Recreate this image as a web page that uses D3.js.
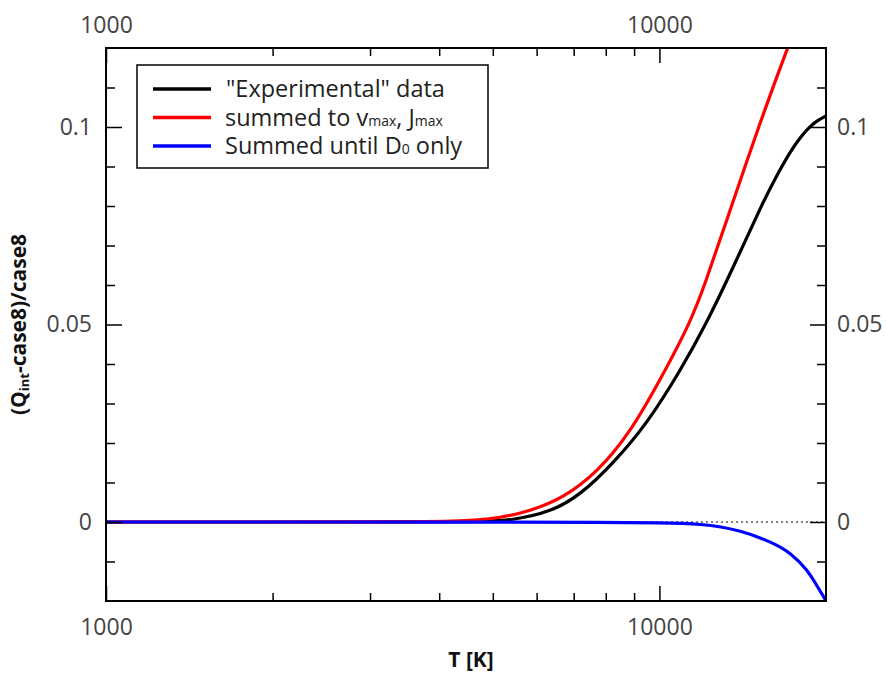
<!DOCTYPE html>
<html lang="en">
<head>
  <meta charset="UTF-8">
  <title>(Qint-case8)/case8 vs T</title>
  <script src="https://d3js.org/d3.v7.min.js"></script>
  <style>
    body {
      margin: 0;
      background: #fff;
      font-family: "Open Sans", "DejaVu Sans", sans-serif;
    }
    .tick text {
      font-family: "Open Sans", sans-serif;
      font-size: 23px;
      fill: #444;
    }
    .axis-title {
      font-family: "Open Sans", sans-serif;
      font-weight: bold;
      font-size: 21px;
      fill: #111;
    }
    .legend text {
      font-family: "Open Sans", sans-serif;
      font-size: 23.5px;
      fill: #222;
    }
  </style>
</head>
<body>
  <svg width="886" height="675"></svg>

  <script>
    // values
    const tBlack = [1000, 3000, 4800, 5445, 6353, 7194, 8257, 9513, 10914, 12112, 13724, 15421, 16346, 17254, 17989, 18755, 19389, 20000];
    const vBlack = [0, 0, 0, 0.0005, 0.0025, 0.0068, 0.0149, 0.025, 0.0384, 0.0497, 0.0657, 0.0813, 0.0881, 0.0939, 0.0975, 0.1003, 0.1018, 0.1028];

    const tRed = [1000, 3000, 4365, 5159, 5844, 6704, 7726, 8864, 10042, 11379, 12112, 13054, 15224, 17040, 18365];
    const vRed = [0, 0, 0.0001, 0.001, 0.0028, 0.0061, 0.0126, 0.0227, 0.0361, 0.0505, 0.0606, 0.074, 0.1015, 0.12, 0.1318];

    const tBlue = [1000, 5000, 8000, 10000, 11864, 14012, 16075, 17254, 18515, 19306, 20000];
    const vBlue = [0, 0, -0.0001, -0.0002, -0.0004, -0.002, -0.0053, -0.0078, -0.0121, -0.0164, -0.0199];

    const xMajor = [1000, 10000];
    const xMinor = [2000, 3000, 4000, 5000, 6000, 7000, 8000, 9000];
    const yMajor = [0, 0.05, 0.1];
    const yMinor = [-0.01, 0.01, 0.02, 0.03, 0.04, 0.06, 0.07, 0.08, 0.09, 0.11];

    const seriesNames = ["\"Experimental\" data", "summed to v", "Summed until D"];
    const seriesColors = ["#000", "#ff0000", "#0000ff"];

    const margin = { top: 48, right: 60, bottom: 74, left: 106 },
          width = 886 - margin.left - margin.right,
          height = 675 - margin.top - margin.bottom;

    const svg = d3.select("svg")
      .append("g")
      .attr("transform", `translate(${margin.left},${margin.top})`);

    const x = d3.scaleLog().domain([1000, 20000]).range([0, width]);
    const y = d3.scaleLinear().domain([-0.02, 0.12]).range([height, 0]);

    svg.append("clipPath").attr("id", "clip")
      .append("rect").attr("width", width).attr("height", height);

    // zero line (dotted)
    svg.append("line")
      .attr("x1", 0).attr("x2", width)
      .attr("y1", y(0)).attr("y2", y(0))
      .attr("stroke", "#000")
      .attr("stroke-width", 1)
      .attr("stroke-dasharray", "2,3");

    const line = d3.line()
      .x(d => x(d[0]))
      .y(d => y(d[1]))
      .curve(d3.curveBasis);

    const series = [
      d3.zip(tBlack, vBlack),
      d3.zip(tRed, vRed),
      d3.zip(tBlue, vBlue)
    ];

    svg.append("g").attr("clip-path", "url(#clip)")
      .selectAll("path")
      .data(series)
      .enter()
      .append("path")
      .attr("d", line)
      .attr("fill", "none")
      .attr("stroke", (d, i) => seriesColors[i])
      .attr("stroke-width", 3.2);

    // axes: ticks point inward, major longer than minor
    const fmtY = d => d === 0 ? "0" : d3.format("")(d);

    function styleAxis(g) {
      g.select(".domain").remove();
      g.selectAll(".tick line").attr("stroke", "#000").attr("stroke-width", 1.5);
    }

    svg.append("g").attr("transform", `translate(0,${height})`)
      .call(d3.axisBottom(x).tickValues(xMinor).tickSize(-8).tickFormat(""))
      .call(styleAxis);
    svg.append("g").attr("transform", `translate(0,${height})`)
      .call(d3.axisBottom(x).tickValues(xMajor).tickSize(-15).tickPadding(18).tickFormat(d3.format("d")))
      .call(styleAxis);

    svg.append("g")
      .call(d3.axisTop(x).tickValues(xMinor).tickSize(-8).tickFormat(""))
      .call(styleAxis);
    svg.append("g")
      .call(d3.axisTop(x).tickValues(xMajor).tickSize(-15).tickPadding(15).tickFormat(d3.format("d")))
      .call(styleAxis);

    svg.append("g")
      .call(d3.axisLeft(y).tickValues(yMinor).tickSize(-9).tickFormat(""))
      .call(styleAxis);
    svg.append("g")
      .call(d3.axisLeft(y).tickValues(yMajor).tickSize(-16).tickPadding(14).tickFormat(fmtY))
      .call(styleAxis);

    svg.append("g").attr("transform", `translate(${width},0)`)
      .call(d3.axisRight(y).tickValues(yMinor).tickSize(-9).tickFormat(""))
      .call(styleAxis);
    svg.append("g").attr("transform", `translate(${width},0)`)
      .call(d3.axisRight(y).tickValues(yMajor).tickSize(-16).tickPadding(11).tickFormat(fmtY))
      .call(styleAxis);

    // frame
    svg.append("rect")
      .attr("width", width).attr("height", height)
      .attr("fill", "none")
      .attr("stroke", "#000")
      .attr("stroke-width", 2);

    // axis titles
    svg.append("text")
      .attr("class", "axis-title")
      .attr("x", width / 2 + 5)
      .attr("y", height + 66)
      .attr("text-anchor", "middle")
      .text("T [K]");

    const yTitle = svg.append("text")
      .attr("class", "axis-title")
      .attr("transform", `translate(${-80},${height / 2}) rotate(-90)`)
      .attr("text-anchor", "middle");
    yTitle.append("tspan").text("(Q");
    yTitle.append("tspan").attr("font-size", "13px").attr("dy", 3).text("int");
    yTitle.append("tspan").attr("dy", -3).text("-case8)/case8");

    // legend
    const legend = svg.append("g")
      .attr("class", "legend")
      .attr("transform", "translate(31,17)");

    legend.append("rect")
      .attr("width", 351).attr("height", 103)
      .attr("fill", "#fff")
      .attr("stroke", "#000")
      .attr("stroke-width", 1.5);

    const rows = legend.selectAll(".row")
      .data(seriesNames)
      .enter()
      .append("g")
      .attr("class", "row")
      .attr("transform", (d, i) => `translate(0,${24 + i * 28.5})`);

    rows.append("line")
      .attr("x1", 16).attr("x2", 74)
      .attr("stroke", (d, i) => seriesColors[i])
      .attr("stroke-width", 3.5);

    const labels = rows.append("text")
      .attr("x", (d, i) => i === 0 ? 89 : 88)
      .attr("y", 8);

    labels.each(function(d, i) {
      const t = d3.select(this);
      t.append("tspan").text(d);
      if (i === 1) {
        t.append("tspan").attr("font-size", "14px").text("max");
        t.append("tspan").text(", J");
        t.append("tspan").attr("font-size", "14px").text("max");
      } else if (i === 2) {
        t.append("tspan").attr("font-size", "14px").text("0");
        t.append("tspan").text(" only");
      }
    });
  </script>
</body>
</html>
